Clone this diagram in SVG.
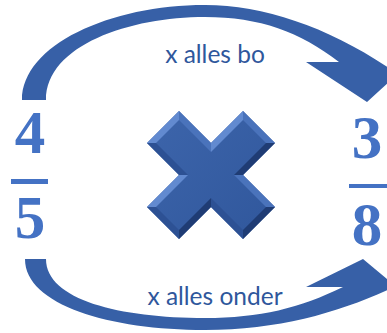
<svg xmlns="http://www.w3.org/2000/svg" width="387" height="333" viewBox="0 0 387 333">
<defs>
<style>
.arrow{fill:#3760a7}
.lbl{font-family:Lato,"Open Sans","Liberation Sans",sans-serif;font-size:24.5px;fill:#2f579c;text-anchor:middle}
.dig{font-family:"Liberation Serif",serif;font-weight:bold;font-size:61px;fill:#4472c4;text-anchor:middle}
.bar{fill:#4472c4}
.lt{fill:#628ad0}
.md{fill:#4a73bb}
.dm{fill:#2d5194}
.dk{fill:#1f3c74}
</style>
<linearGradient id="face" x1="0" y1="0" x2="1" y2="1">
<stop offset="0" stop-color="#3d65ab"/>
<stop offset="1" stop-color="#30579c"/>
</linearGradient>
</defs>
<rect width="387" height="333" fill="#ffffff"/>
<g id="connectors">
<g id="arrow-top">
<path class="arrow" d="M22,100 C22,45 110,5 205,5 C265,5 330,28 392,70 L400,72 L367,102 L306,62 L339,62 C300,32 260,17 205,17 C130,17 46,45 46,100 Z"/>
<text class="lbl" x="215" y="63">x alles bo</text>
</g>
<g id="arrow-bottom">
<path class="arrow" d="M25,259 C25,305 110,330 205,330 C280,330 340,312 392,288 L400,296 L400,290 L363,259 L306,287 L343,287 C300,308 260,318 205,318 C120,318 46,300 46,259 Z"/>
<text class="lbl" x="215" y="305">x alles onder</text>
</g>
</g>
<g id="frac-left">
<text class="dig" x="30" y="153">4</text>
<rect class="bar" x="11" y="179" width="37" height="5"/>
<text class="dig" x="30" y="238">5</text>
</g>
<g id="frac-right">
<text class="dig" x="367" y="158">3</text>
<rect class="bar" x="349" y="184" width="38" height="4"/>
<text class="dig" x="367" y="245">8</text>
</g>
<g id="cross" transform="translate(211,175)">
<polygon fill="url(#face)" points="-64,-32 -32,-64 0,-32 32,-64 64,-32 32,0 64,32 32,64 0,32 -32,64 -64,32 -32,0"/>
<polygon class="lt" points="-64,-32 -32,-64 -32,-55 -55,-32"/>
<polygon class="md" points="-32,-64 0,-32 0,-23 -32,-55"/>
<polygon class="lt" points="0,-32 32,-64 32,-55 0,-23"/>
<polygon class="md" points="32,-64 64,-32 55,-32 32,-55"/>
<polygon class="dk" points="64,-32 32,0 23,0 55,-32"/>
<polygon class="md" points="32,0 64,32 55,32 23,0"/>
<polygon class="dk" points="64,32 32,64 32,55 55,32"/>
<polygon class="dm" points="32,64 0,32 0,23 32,55"/>
<polygon class="dk" points="0,32 -32,64 -32,55 0,23"/>
<polygon class="dm" points="-32,64 -64,32 -55,32 -32,55"/>
<polygon class="lt" points="-64,32 -32,0 -23,0 -55,32"/>
<polygon class="dm" points="-32,0 -64,-32 -55,-32 -23,0"/>
</g>
</svg>
